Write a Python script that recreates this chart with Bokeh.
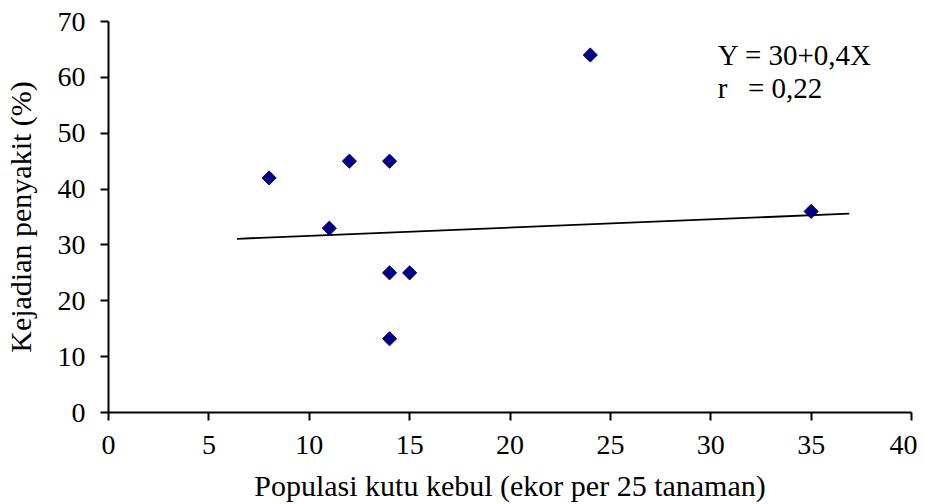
import math
from bokeh.plotting import figure
from bokeh.models import Range1d, FixedTicker, Label
from bokeh.embed import file_html
from bokeh.resources import INLINE

# data
pop_x = [8, 11, 12, 14, 14, 15, 14, 24, 35]
incidence_y = [42, 33, 45, 45, 25, 25, 13.2, 64, 36]
trend_x = [6.4, 36.9]
trend_y = [31.1, 35.6]
x_ticks = [0, 5, 10, 15, 20, 25, 30, 35, 40]
y_ticks = [0, 10, 20, 30, 40, 50, 60, 70]
eq_text = "Y = 30+0,4X"
r_label = "r"
r_text = "= 0,22"

FONT = "Liberation Serif"

p = figure(width=917, height=504, output_backend="svg", toolbar_location=None,
           x_range=Range1d(0, 40), y_range=Range1d(0, 70),
           min_border_left=107, min_border_right=6, min_border_top=21, min_border_bottom=91)
p.outline_line_color = None
p.xgrid.grid_line_color = None
p.ygrid.grid_line_color = None
p.background_fill_color = "white"

for ax in (p.xaxis[0], p.yaxis[0]):
    ax.axis_line_color = "black"
    ax.axis_line_width = 2
    ax.major_tick_line_color = "black"
    ax.major_tick_line_width = 2
    ax.major_tick_out = 8
    ax.major_tick_in = 0
    ax.minor_tick_line_color = None
    ax.major_label_text_font = FONT
    ax.major_label_text_font_size = "28px"
    ax.major_label_text_color = "black"
    ax.axis_label_text_font = FONT
    ax.axis_label_text_font_size = "30px"
    ax.axis_label_text_font_style = "normal"
    ax.axis_label_text_color = "black"

p.xaxis.ticker = FixedTicker(ticks=x_ticks)
p.yaxis.ticker = FixedTicker(ticks=y_ticks)
p.xaxis.axis_label = "Populasi kutu kebul (ekor per 25 tanaman)"
p.yaxis.axis_label = "Kejadian penyakit (%)"
p.xaxis.major_label_standoff = 15
p.yaxis.major_label_standoff = 15
p.xaxis.axis_label_standoff = 12
p.yaxis.axis_label_standoff = 18

p.line(trend_x, trend_y, line_color="black", line_width=1.8)
p.scatter(pop_x, incidence_y, marker="square", size=10, angle=math.pi / 4,
          fill_color="#000080", line_color="#000080")

p.add_layout(Label(x=30.35, y=64.0, text=eq_text, text_font=FONT,
                   text_font_size="29px", text_color="black", text_baseline="alphabetic"))
p.add_layout(Label(x=30.35, y=58.1, text=r_label, text_font=FONT,
                   text_font_size="29px", text_color="black", text_baseline="alphabetic"))
p.add_layout(Label(x=31.85, y=58.1, text=r_text, text_font=FONT,
                   text_font_size="29px", text_color="black", text_baseline="alphabetic"))

open("out.html", "w").write(file_html(p, INLINE))
